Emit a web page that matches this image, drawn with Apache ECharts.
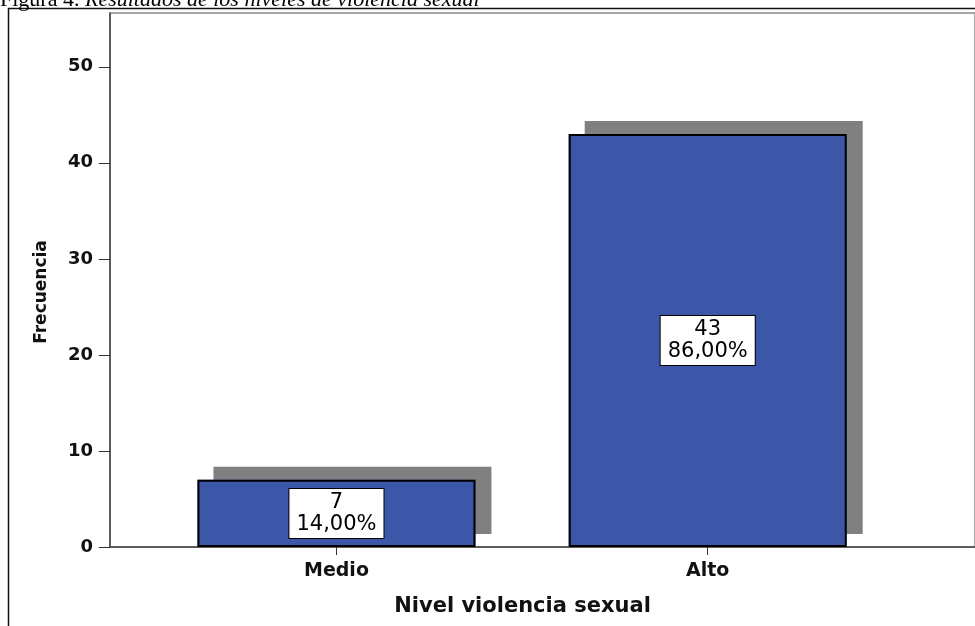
<!DOCTYPE html>
<html lang="es">
<head>
<meta charset="UTF-8">
<script src="https://cdn.jsdelivr.net/npm/echarts@6/dist/echarts.min.js"></script>
<title>Nivel violencia sexual</title>
<style>
  html, body { margin: 0; padding: 0; background: #fff; }
  #chart { width: 975px; height: 626px; }
</style>
</head>
<body>
<div id="chart"></div>
<script>
// datos del gráfico
var categorias = ['Medio', 'Alto'];
var frecuencias = [7, 43];
var posiciones = [1, 2];          // posición de cada categoría en el eje x
var ticksY = [0, 10, 20, 30, 40, 50];

var total = frecuencias.reduce(function (a, b) { return a + b; }, 0);

var chart = echarts.init(document.getElementById('chart'));

var datos = [];
for (var i = 0; i < categorias.length; i++) {
    datos.push([posiciones[i], frecuencias[i]]);
}

var azul = '#3d57a8';

var option = {
    backgroundColor: '#fff',
    animation: false,
    grid: {
        left: 110, top: 13, right: -2, bottom: 79,
        show: true,
        borderColor: '#8a8a8a',
        borderWidth: 1.5
    },
    xAxis: {
        type: 'value',
        min: 0.39,
        max: 2.72,
        name: 'Nivel violencia sexual',
        nameLocation: 'middle',
        nameGap: 49,
        nameTextStyle: {
            fontFamily: 'DejaVu Sans', fontWeight: 'bold', fontSize: 21, color: '#111',
            padding: [0, 40, 0, 0]
        },
        splitLine: { show: false },
        axisLine: { show: true, lineStyle: { color: '#444', width: 1.5 } },
        axisTick: { show: true, customValues: posiciones, length: 8, lineStyle: { color: '#333' } },
        axisLabel: {
            customValues: posiciones,
            margin: 15,
            fontFamily: 'DejaVu Sans', fontWeight: 'bold', fontSize: 19, color: '#111',
            formatter: function (v) {
                var idx = posiciones.indexOf(Math.round(v));
                return idx >= 0 ? categorias[idx] : '';
            }
        }
    },
    yAxis: {
        type: 'value',
        min: 0,
        max: 55.6,
        name: 'Frecuencia',
        nameLocation: 'middle',
        nameGap: 60,
        nameTextStyle: {
            fontFamily: 'DejaVu Sans', fontWeight: 'bold', fontSize: 17, color: '#111',
            padding: [0, 24, 0, 0]
        },
        splitLine: { show: false },
        axisLine: { show: true, lineStyle: { color: '#444', width: 1.5 } },
        axisTick: { show: true, customValues: ticksY, length: 11, lineStyle: { color: '#333' } },
        axisLabel: {
            customValues: ticksY,
            margin: 17,
            fontFamily: 'DejaVu Sans', fontWeight: 'bold', fontSize: 18, color: '#111'
        }
    },
    series: [
        {
            // capa de sombra gris
            type: 'bar',
            data: datos,
            barWidth: 278,
            silent: true,
            itemStyle: {
                color: azul,
                borderWidth: 0,
                shadowColor: '#808080',
                shadowBlur: 0,
                shadowOffsetX: 16,
                shadowOffsetY: -13
            }
        },
        {
            type: 'bar',
            data: datos,
            barWidth: 278,
            barGap: '-100%',
            itemStyle: {
                color: azul,
                borderColor: '#000',
                borderWidth: 2
            },
            label: {
                show: true,
                position: 'inside',
                fontFamily: 'DejaVu Sans',
                fontSize: 21,
                lineHeight: 22,
                color: '#000',
                backgroundColor: '#fff',
                borderColor: '#000',
                borderWidth: 1,
                padding: [3, 7, 2, 7],
                formatter: function (p) {
                    var n = p.value[1];
                    var pct = (n / total * 100).toFixed(2).replace('.', ',');
                    return n + '\n' + pct + '%';
                }
            }
        }
    ],
    graphic: [
        {
            type: 'rect',
            shape: { x: 8.5, y: 8.5, width: 1000, height: 1000 },
            style: { fill: 'none', stroke: '#111', lineWidth: 1.5 },
            silent: true
        },
        {
            type: 'text',
            left: 0,
            top: -11,
            style: {
                text: '{n|Figura 4. }{i|Resultados de los niveles de violencia sexual}',
                rich: {
                    n: { fontFamily: 'Liberation Serif', fontSize: 22, fill: '#000' },
                    i: { fontFamily: 'Liberation Serif', fontStyle: 'italic', fontSize: 22, fill: '#000' }
                }
            },
            silent: true
        }
    ]
};

chart.setOption(option);
</script>
</body>
</html>
